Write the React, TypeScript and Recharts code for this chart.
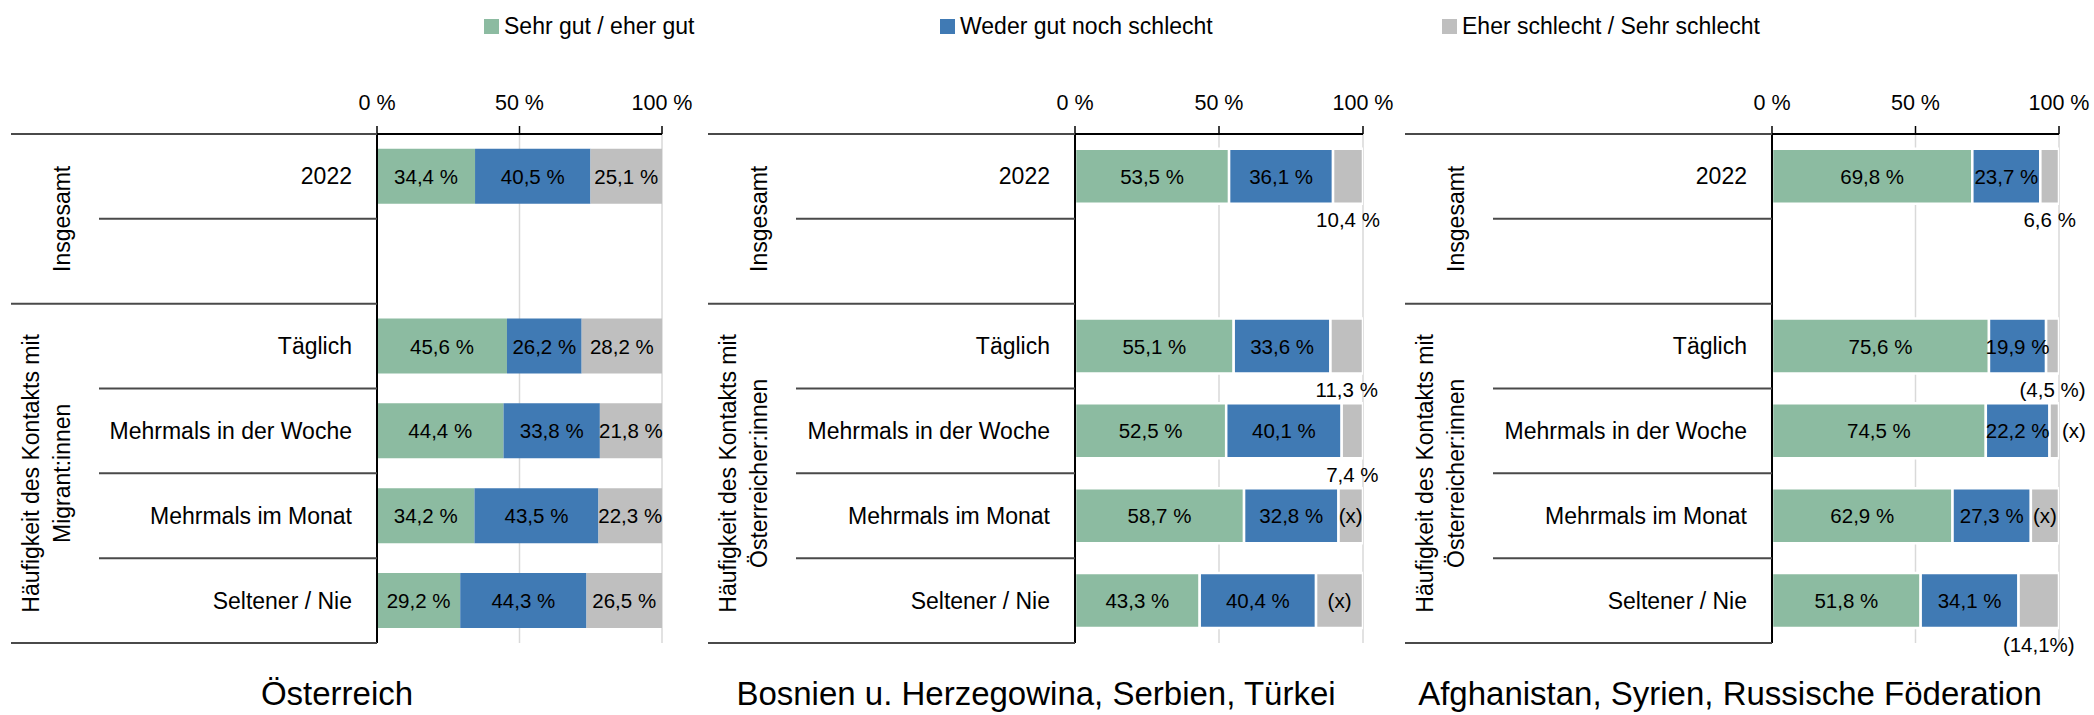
import React from 'react';
import { BarChart, Bar, XAxis, YAxis, CartesianGrid, LabelList } from 'recharts';

// ---------- data ----------
const categories = ['2022', ' ', 'Täglich', 'Mehrmals in der Woche', 'Mehrmals im Monat', 'Seltener / Nie'];
const seriesNames = ['Sehr gut / eher gut', 'Weder gut noch schlecht', 'Eher schlecht / Sehr schlecht'];
const xTicks = [0, 50, 100];
const groupTotalLabel = 'Insgesamt';
const groupFreqLine1 = 'Häufigkeit des Kontakts mit';
const titles = ['Österreich', 'Bosnien u. Herzegowina, Serbien, Türkei', 'Afghanistan, Syrien, Russische Föderation'];
const groupFreqLine2 = ['Migrant:innen', 'Österreicher:innen', 'Österreicher:innen'];

// Österreich
const atGood = [34.4, null, 45.6, 44.4, 34.2, 29.2];
const atNeutral = [40.5, null, 26.2, 33.8, 43.5, 44.3];
const atBad = [25.1, null, 28.2, 21.8, 22.3, 26.5];
const atBadLabels = ['25,1 %', '', '28,2 %', '21,8 %', '22,3 %', '26,5 %'];

// Bosnien u. Herzegowina, Serbien, Türkei
const bsGood = [53.5, null, 55.1, 52.5, 58.7, 43.3];
const bsNeutral = [36.1, null, 33.6, 40.1, 32.8, 40.4];
const bsBad = [10.4, null, 11.3, 7.4, 8.5, 16.3];
const bsBadLabels = ['10,4 %', '', '11,3 %', '7,4 %', '(x)', '(x)'];

// Afghanistan, Syrien, Russische Föderation
const afGood = [69.8, null, 75.6, 74.5, 62.9, 51.8];
const afNeutral = [23.7, null, 19.9, 22.2, 27.3, 34.1];
const afBad = [6.6, null, 4.5, 3.3, 9.8, 14.1];
const afBadLabels = ['6,6 %', '', '(4,5 %)', '(x)', '(x)', '(14,1%)'];

// label placement of the grey segment labels
type Placement = 'inside' | 'below' | 'right';
const atBadPlacement: Placement[] = ['inside', 'inside', 'inside', 'inside', 'inside', 'inside'];
const bsBadPlacement: Placement[] = ['below', 'inside', 'below', 'below', 'inside', 'inside'];
const afBadPlacement: Placement[] = ['below', 'inside', 'below', 'right', 'inside', 'below'];

// ---------- style / layout ----------
const FONT = '"Liberation Sans", Arial, sans-serif';
const GREEN = '#8CBBA1';
const BLUE = '#407AB4';
const GREY = '#BFBFBF';
const COLORS = [GREEN, BLUE, GREY];
const SEP = '#4a4a4a';
const PLOT_TOP = 134;
const PLOT_BOTTOM = 643;
const CHART_H = 660;
const X_AXIS_H = 30;
const RIGHT_MARGIN = 38;
const INNER_OFFSET = 88;
const CAT_FONT = 23;
const VAL_FONT = 20.5;

const groups = [
  { start: 0, end: 1 },
  { start: 2, end: 5 },
];

const panels = [
  { left: 11, yWidth: 366, plotWidth: 285, good: atGood, neutral: atNeutral, bad: atBad, badLabels: atBadLabels, placement: atBadPlacement, barStroke: 0 },
  { left: 708, yWidth: 367, plotWidth: 288, good: bsGood, neutral: bsNeutral, bad: bsBad, badLabels: bsBadLabels, placement: bsBadPlacement, barStroke: 2.5 },
  { left: 1405, yWidth: 367, plotWidth: 287, good: afGood, neutral: afNeutral, bad: afBad, badLabels: afBadLabels, placement: afBadPlacement, barStroke: 2.5 },
];

const fmt = (v: number) => `${v.toFixed(1).replace('.', ',')} %`;

function PercentTick(props: any) {
  const { x, payload } = props;
  return (
    <text x={x} y={PLOT_TOP - 31} textAnchor="middle" dominantBaseline="central" fontSize={21.5} fill="#000" fontFamily={FONT}>
      {`${payload.value} %`}
    </text>
  );
}

function CategoryTick(props: any) {
  const { y, payload, index, pi } = props;
  const fallback = (PLOT_BOTTOM - PLOT_TOP) / categories.length / 2;
  const half = payload && payload.offset > 0 ? payload.offset : fallback;
  const p = panels[pi];
  const axisX = p.yWidth;
  const label = String(payload.value).trim();
  const isGroupEnd = groups.some((g) => g.end === index);
  const isGroupStart = groups.find((g) => g.start === index);
  const elems: any[] = [];
  if (label) {
    elems.push(
      <text key="t" x={axisX - 25} y={y} textAnchor="end" dominantBaseline="central" fontSize={CAT_FONT} fill="#000" fontFamily={FONT}>
        {label}
      </text>
    );
  }
  if (index === 0) {
    elems.push(<line key="top" x1={0} x2={axisX} y1={y - half} y2={y - half} stroke={SEP} strokeWidth={2} />);
  }
  elems.push(
    <line key="bot" x1={isGroupEnd ? 0 : INNER_OFFSET} x2={axisX} y1={y + half} y2={y + half} stroke={SEP} strokeWidth={2} />
  );
  if (isGroupStart) {
    const cy = y + (isGroupStart.end - isGroupStart.start) * half;
    const lines = isGroupStart.start === 0 ? [groupTotalLabel] : [groupFreqLine1, groupFreqLine2[pi]];
    const xs = lines.length === 1 ? [51] : [20, 51];
    lines.forEach((ln, k) => {
      elems.push(
        <text key={`g${k}`} x={xs[k]} y={cy} transform={`rotate(-90 ${xs[k]} ${cy})`} textAnchor="middle" dominantBaseline="central" fontSize={23} fill="#000" fontFamily={FONT}>
          {ln}
        </text>
      );
    });
  }
  return <g>{elems}</g>;
}

function renderValueLabel(lp: any, values: (number | null)[], texts?: string[], placements?: Placement[]) {
  const i = Number(lp.value);
  const vb = lp.viewBox && lp.viewBox.width !== undefined ? lp.viewBox : lp;
  const { x, y, width, height } = vb;
  if (!Number.isFinite(i) || values[i] == null || !Number.isFinite(x) || !Number.isFinite(width)) return null;
  const text = texts ? texts[i] : fmt(values[i] as number);
  if (!text) return null;
  const place = placements ? placements[i] : 'inside';
  let tx = x + width / 2;
  let ty = y + height / 2;
  let anchor: any = 'middle';
  if (place === 'below') ty = y + height + 16;
  if (place === 'right') {
    tx = x + width + 3;
    anchor = 'start';
  }
  return (
    <text key={`l${i}`} x={tx} y={ty} textAnchor={anchor} dominantBaseline="central" fontSize={VAL_FONT} fill="#000" fontFamily={FONT}>
      {text}
    </text>
  );
}

function Panel({ pi }: { pi: number }) {
  const p = panels[pi];
  const data = categories.map((cat, i) => ({ cat, idx: i, good: p.good[i], neutral: p.neutral[i], bad: p.bad[i] }));
  const width = p.yWidth + p.plotWidth + RIGHT_MARGIN;
  const stroke = p.barStroke > 0 ? '#fff' : 'none';
  return (
    <div style={{ position: 'absolute', left: p.left, top: 0, width, height: CHART_H }}>
      <BarChart
        width={width}
        height={CHART_H}
        data={data}
        layout="vertical"
        margin={{ top: PLOT_TOP - X_AXIS_H, right: RIGHT_MARGIN, bottom: CHART_H - PLOT_BOTTOM, left: 0 }}
        barCategoryGap="17.5%"
        style={{ overflow: 'visible' }}
      >
        <CartesianGrid horizontal={false} stroke="#d9d9d9" strokeWidth={1.5} />
        <Bar dataKey="good" stackId="s" fill={GREEN} stroke={stroke} strokeWidth={p.barStroke} isAnimationActive={false}>
          <LabelList dataKey="idx" content={(lp: any) => renderValueLabel(lp, p.good)} />
        </Bar>
        <Bar dataKey="neutral" stackId="s" fill={BLUE} stroke={stroke} strokeWidth={p.barStroke} isAnimationActive={false}>
          <LabelList dataKey="idx" content={(lp: any) => renderValueLabel(lp, p.neutral)} />
        </Bar>
        <Bar dataKey="bad" stackId="s" fill={GREY} stroke={stroke} strokeWidth={p.barStroke} isAnimationActive={false}>
          <LabelList dataKey="idx" content={(lp: any) => renderValueLabel(lp, p.bad, p.badLabels, p.placement)} />
        </Bar>
        <XAxis
          type="number"
          orientation="top"
          domain={[0, 100]}
          ticks={xTicks}
          allowDataOverflow
          height={X_AXIS_H}
          axisLine={{ stroke: '#000', strokeWidth: 2 }}
          tickLine={{ stroke: '#000', strokeWidth: 1.5 }}
          tickSize={8}
          interval={0}
          tick={<PercentTick />}
        />
        <YAxis
          type="category"
          dataKey="cat"
          width={p.yWidth}
          axisLine={{ stroke: '#000', strokeWidth: 2 }}
          tickLine={false}
          tickSize={0}
          interval={0}
          tick={(props: any) => <CategoryTick {...props} pi={pi} />}
        />
      </BarChart>
    </div>
  );
}

const legendLefts = [484, 940, 1442];
const titleCenters = [337, 1036, 1730];

export default function App() {
  return (
    <div style={{ position: 'absolute', left: 0, top: 0, width: 2094, height: 715, background: '#fff', overflow: 'hidden', fontFamily: FONT }}>
      {seriesNames.map((name, i) => (
        <div key={name} style={{ position: 'absolute', left: legendLefts[i], top: 12, height: 28, display: 'flex', alignItems: 'center' }}>
          <span style={{ display: 'inline-block', width: 15, height: 15, background: COLORS[i], marginRight: 5 }} />
          <span style={{ fontSize: 23, whiteSpace: 'nowrap', color: '#000' }}>{name}</span>
        </div>
      ))}
      {panels.map((_, i) => (
        <Panel key={i} pi={i} />
      ))}
      {titles.map((t, i) => (
        <div key={t} style={{ position: 'absolute', left: titleCenters[i] - 400, width: 800, top: 674, lineHeight: '40px', textAlign: 'center', fontSize: 33, color: '#000', whiteSpace: 'nowrap' }}>
          {t}
        </div>
      ))}
    </div>
  );
}
